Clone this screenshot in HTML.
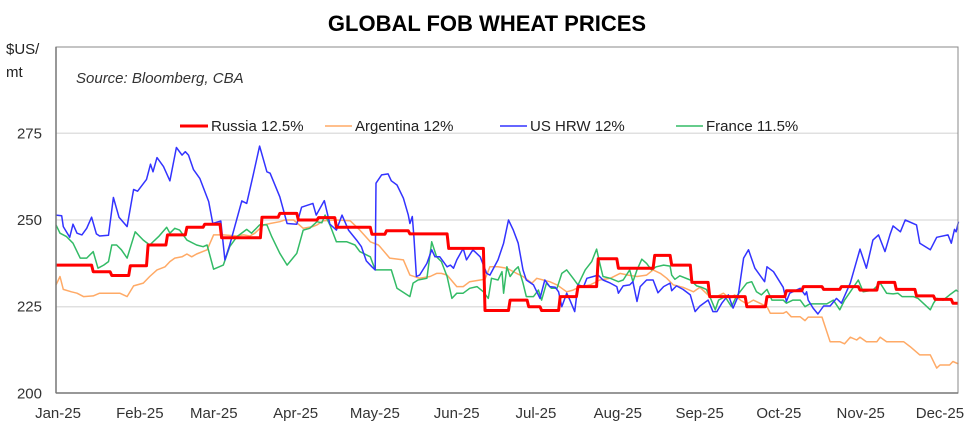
<!DOCTYPE html>
<html><head><meta charset="utf-8"><style>
html,body{margin:0;padding:0;background:#fff;}
body{width:975px;height:439px;overflow:hidden;font-family:"Liberation Sans",Arial,sans-serif;}
</style></head><body>
<svg id="chart" width="975" height="439" xmlns="http://www.w3.org/2000/svg" font-family="Liberation Sans, Arial, sans-serif">
<text x="487" y="31" text-anchor="middle" font-size="22" font-weight="bold" fill="#000">GLOBAL FOB WHEAT PRICES</text>
<text x="6" y="54" font-size="15" fill="#222">$US/</text>
<text x="6" y="77" font-size="15" fill="#222">mt</text>
<g id="grid"></g>
<g id="yt"></g>
<g id="xt"></g>
<g id="series"></g>
<rect x="56" y="47" width="902" height="346" fill="none" stroke="#888" stroke-width="1"/>
<line x1="56" y1="47" x2="56" y2="393" stroke="#777" stroke-width="1.5"/>
<line x1="56" y1="393" x2="958" y2="393" stroke="#777" stroke-width="1.5"/>
<text x="76" y="83" font-size="15" font-style="italic" fill="#333">Source: Bloomberg, CBA</text>
<g>
<g><line x1="180" y1="126" x2="208" y2="126" stroke="#ff0000" stroke-width="3"/><text x="211" y="131" font-size="15" fill="#222">Russia 12.5%</text></g>
<g><line x1="325" y1="126" x2="352" y2="126" stroke="#ffaa66" stroke-width="1.5"/><text x="355" y="131" font-size="15" fill="#222">Argentina 12%</text></g>
<g><line x1="500" y1="126" x2="527" y2="126" stroke="#3333ff" stroke-width="1.5"/><text x="530" y="131" font-size="15" fill="#222">US HRW 12%</text></g>
<g><line x1="676" y1="126" x2="703" y2="126" stroke="#33bb66" stroke-width="1.5"/><text x="706" y="131" font-size="15" fill="#222">France 11.5%</text></g>
</g>
</svg>
<script>
const yTicks=[200,225,250,275];
const monthLabels=["Jan-25","Feb-25","Mar-25","Apr-25","May-25","Jun-25","Jul-25","Aug-25","Sep-25","Oct-25","Nov-25","Dec-25"];
const monthStartDays=[0,31,59,90,120,151,181,212,243,273,304,334];
const russiaM=[0,.46,.69,.92,1.14,1.38,1.62,1.84,2.05,2.55,2.77,3.00,3.25,3.47,3.91,4.09,4.38,4.86,5.31,5.62,5.85,6.01,6.24,6.46,6.71,6.96,7.41,7.62,7.87,8.09,8.55,8.80,9.04,9.25,9.50,9.72,9.95,10.18,10.40,10.65,10.88,11.10];
const russiaV=[237.0,235.1,234.0,236.8,242.8,245.7,247.9,248.8,244.9,250.8,251.9,250.0,250.7,247.9,245.9,246.9,246.0,241.8,223.9,226.9,225.0,223.9,227.9,230.8,238.8,236.1,239.8,237.0,232.0,227.9,225.0,227.9,229.6,230.8,230.0,230.8,229.8,232.0,230.0,228.1,227.1,226.0];
const russiaEndM=11.17;
const argM=[0,.05,.09,.19,.26,.34,.46,.54,.79,.88,.96,1.08,1.16,1.25,1.35,1.41,1.47,1.56,1.62,1.68,1.74,1.87,1.95,2.07,2.24,2.32,2.40,2.46,2.57,2.65,2.77,2.83,2.94,3.06,3.18,3.23,3.31,3.47,3.64,3.76,3.89,3.99,4.01,4.13,4.30,4.38,4.50,4.63,4.71,4.77,4.84,4.96,5.04,5.12,5.25,5.31,5.37,5.47,5.58,5.70,5.78,5.89,5.95,6.03,6.11,6.20,6.26,6.32,6.40,6.49,6.61,6.73,6.86,6.98,7.08,7.19,7.31,7.39,7.48,7.56,7.64,7.76,7.89,7.97,8.09,8.18,8.26,8.34,8.40,8.47,8.55,8.63,8.71,8.80,8.84,9.00,9.04,9.10,9.21,9.27,9.31,9.48,9.58,9.70,9.76,9.83,9.91,9.95,10.03,10.16,10.20,10.28,10.49,10.57,10.69,10.82,10.90,10.94,11.06,11.10,11.17];
const argV=[231.3,233.7,230.0,229.3,228.9,227.9,228.1,228.9,228.9,227.9,231.0,231.8,233.7,235.6,236.5,238.0,239.0,239.4,240.2,239.4,240.2,241.4,245.7,245.7,245.4,245.7,245.4,246.2,248.6,249.0,249.5,250.0,250.0,247.6,248.1,248.6,249.8,250.0,249.8,247.1,243.7,242.8,242.3,239.0,238.5,234.1,233.2,233.7,234.6,234.6,234.1,230.8,230.8,232.2,232.7,232.9,236.5,236.5,236.1,234.6,233.7,231.8,233.2,232.7,232.2,231.3,230.3,229.3,229.8,230.8,231.3,232.7,233.2,234.6,234.1,233.7,234.1,235.6,234.6,233.2,231.3,230.6,229.3,230.6,227.9,227.9,228.9,227.4,228.4,226.9,225.8,226.9,226.0,225.0,223.1,223.1,223.6,222.1,222.1,221.0,222.0,222.0,214.9,214.9,214.3,216.2,215.4,216.2,214.9,214.9,216.2,214.9,214.9,213.5,211.1,211.1,207.3,208.2,208.2,209.2,208.5];
const usM=[0,.07,.09,.17,.21,.26,.32,.38,.44,.50,.54,.65,.71,.78,.88,.96,1.01,1.12,1.17,1.20,1.25,1.33,1.41,1.49,1.56,1.60,1.64,1.70,1.78,1.89,1.94,2.04,2.09,2.15,2.30,2.36,2.44,2.52,2.61,2.65,2.77,2.86,2.98,3.04,3.18,3.22,3.32,3.39,3.47,3.54,3.62,3.72,3.78,3.84,3.91,3.95,3.96,4.03,4.11,4.15,4.22,4.30,4.36,4.38,4.41,4.43,4.46,4.50,4.59,4.65,4.69,4.75,4.84,4.88,4.92,4.96,5.04,5.08,5.16,5.25,5.33,5.37,5.47,5.54,5.60,5.66,5.72,5.78,5.82,5.91,5.99,6.05,6.11,6.18,6.22,6.26,6.32,6.36,6.42,6.46,6.53,6.57,6.65,6.71,6.77,6.86,6.94,6.96,7.02,7.10,7.14,7.19,7.23,7.31,7.39,7.43,7.45,7.52,7.60,7.62,7.68,7.76,7.85,7.91,7.97,8.07,8.13,8.18,8.24,8.32,8.38,8.44,8.51,8.57,8.65,8.77,8.80,8.88,9.00,9.04,9.08,9.21,9.27,9.29,9.31,9.37,9.43,9.50,9.58,9.66,9.72,9.83,9.95,10.03,10.11,10.18,10.26,10.32,10.36,10.45,10.51,10.65,10.69,10.82,10.90,11.04,11.08,11.12,11.14,11.17];
const usV=[251.4,251.2,248.1,245.0,248.8,246.2,245.7,247.6,250.8,246.0,245.4,245.6,256.5,250.8,248.1,258.8,258.3,261.7,266.1,263.9,268.0,265.4,261.3,270.9,268.7,269.7,268.7,264.6,262.0,255.3,249.0,249.7,238.5,242.8,255.5,254.8,263.0,271.3,263.9,263.5,256.7,249.0,248.8,253.7,254.8,251.4,255.6,248.8,247.1,251.4,247.1,244.2,242.3,238.2,236.5,235.6,260.6,263.0,263.3,261.3,260.1,256.3,251.4,249.0,251.0,245.2,233.7,234.1,237.5,241.4,239.4,239.4,236.5,237.0,236.1,238.5,241.8,238.5,241.4,239.4,234.6,234.1,238.5,243.3,250.0,247.1,243.3,235.6,232.7,231.3,227.4,232.7,230.8,230.6,229.3,225.0,228.9,226.9,223.6,231.3,230.8,233.2,233.7,234.1,232.7,231.8,230.8,228.9,231.0,231.3,232.2,226.5,230.8,232.7,232.7,230.3,229.0,230.8,231.8,229.6,231.0,230.0,228.4,223.6,225.2,226.9,223.6,223.6,226.0,228.4,224.6,227.9,239.0,241.4,236.1,232.2,236.5,235.1,230.6,226.5,228.9,230.3,228.4,229.3,226.9,224.6,222.9,225.2,225.2,227.4,226.0,231.8,241.6,236.1,244.2,245.7,240.9,245.7,248.3,246.6,250.0,248.6,243.3,241.4,245.0,245.7,243.3,247.3,246.6,249.5];
const frM=[0,.05,.13,.21,.30,.38,.46,.52,.59,.65,.69,.75,.81,.88,.98,1.08,1.16,1.27,1.37,1.41,1.47,1.53,1.62,1.74,1.82,1.87,1.95,2.07,2.15,2.24,2.36,2.42,2.52,2.61,2.67,2.77,2.86,2.98,3.06,3.14,3.23,3.29,3.33,3.39,3.47,3.60,3.70,3.76,3.89,3.95,4.01,4.15,4.22,4.38,4.42,4.48,4.59,4.65,4.71,4.77,4.84,4.90,4.96,5.04,5.12,5.21,5.29,5.35,5.39,5.47,5.52,5.54,5.58,5.62,5.68,5.72,5.78,5.82,5.91,5.97,6.01,6.07,6.13,6.20,6.26,6.32,6.40,6.46,6.55,6.63,6.69,6.73,6.77,6.86,6.96,7.02,7.10,7.14,7.19,7.25,7.31,7.37,7.43,7.52,7.60,7.62,7.66,7.72,7.85,7.93,7.99,8.05,8.11,8.16,8.20,8.28,8.36,8.42,8.55,8.61,8.67,8.73,8.80,8.86,9.00,9.04,9.12,9.21,9.27,9.33,9.54,9.62,9.70,9.76,9.83,9.93,9.99,10.11,10.20,10.28,10.36,10.42,10.47,10.61,10.67,10.82,10.86,10.90,10.98,11.06,11.14,11.17];
const frV=[248.6,246.2,245.2,243.3,239.0,239.0,240.9,236.1,237.0,238.0,242.8,242.8,241.4,239.0,246.6,244.2,242.8,245.2,247.9,246.2,247.6,247.1,244.2,242.8,242.3,242.8,235.8,237.0,242.3,245.2,247.3,246.2,248.6,248.6,245.2,240.4,237.0,240.4,247.1,247.6,249.5,249.2,251.4,248.6,243.7,243.7,242.8,240.9,239.4,235.6,235.6,235.6,230.3,227.9,231.8,232.7,233.2,243.7,239.4,238.0,233.7,227.4,228.9,228.9,230.3,230.8,229.3,227.4,233.2,232.7,235.1,228.9,236.5,233.7,235.6,236.5,231.8,227.9,227.9,229.8,226.9,231.8,230.3,230.3,234.6,235.6,233.2,231.3,235.6,238.0,241.6,237.5,233.7,233.2,232.2,232.7,235.6,232.2,235.6,238.7,237.5,235.6,236.5,237.0,236.7,234.1,232.9,233.9,232.7,231.0,230.6,230.0,226.9,224.1,226.9,227.9,225.0,227.9,231.8,232.2,229.3,228.4,230.0,226.9,226.9,226.0,226.9,226.9,225.0,225.8,225.8,226.9,224.1,226.9,229.3,232.7,229.3,229.8,231.8,228.9,228.7,228.9,227.9,227.9,227.4,224.1,226.0,227.4,226.9,228.4,229.8,229.3];

const NS="http://www.w3.org/2000/svg";
const X0=56, PXM=80.8, DAYS_PER_M=30.6;
function xs(m){return X0+m*PXM;}
function ys(v){return 220-(v-250)*3.468;}
const grid=document.getElementById('grid'), yt=document.getElementById('yt'), xt=document.getElementById('xt'), ser=document.getElementById('series');
yTicks.forEach(function(t){
  if(t>200){
    const l=document.createElementNS(NS,'line');
    
    
    l.setAttribute('x1',X0);l.setAttribute('x2',958);l.setAttribute('y1',ys(t));l.setAttribute('y2',ys(t));
    l.setAttribute('stroke','#e0e0e0');l.setAttribute('stroke-width','1.5');
    grid.appendChild(l);
  }
  const tx=document.createElementNS(NS,'text');
  
  
  tx.setAttribute('x',42);tx.setAttribute('y',ys(t)+5);tx.setAttribute('text-anchor','end');
  tx.setAttribute('font-size','15');tx.setAttribute('fill','#333');tx.textContent=t;
  yt.appendChild(tx);
});
monthLabels.forEach(function(lab,i){
  const tx=document.createElementNS(NS,'text');
  
  
  tx.setAttribute('x',xs(monthStartDays[i]/DAYS_PER_M)+2);tx.setAttribute('y',418);tx.setAttribute('text-anchor','middle');
  tx.setAttribute('font-size','15');tx.setAttribute('fill','#333');tx.textContent=lab;
  xt.appendChild(tx);
});
function addLine(ms,vs,color,w,name){
  let d='';
  for(let i=0;i<ms.length;i++){d+=(i?'L':'M')+xs(ms[i]).toFixed(1)+','+ys(vs[i]).toFixed(1);}
  const p=document.createElementNS(NS,'path');
  
  
  p.setAttribute('d',d);p.setAttribute('fill','none');p.setAttribute('stroke',color);
  p.setAttribute('stroke-width',w);p.setAttribute('stroke-linejoin','round');
  ser.appendChild(p);
}
addLine(argM,argV,'#ffaa66',1.5,'argentina-line');
addLine(frM,frV,'#33bb66',1.5,'france-line');
addLine(usM,usV,'#3333ff',1.5,'us-hrw-line');
(function(){
  const ms=[],vs=[];
  for(let i=0;i<russiaM.length;i++){
    const end=i<russiaM.length-1?russiaM[i+1]:russiaEndM;
    ms.push(russiaM[i]);vs.push(russiaV[i]);
    ms.push(end-(i<russiaM.length-1?0.02:0));vs.push(russiaV[i]);
  }
  addLine(ms,vs,'#ff0000',3,'russia-line');
})();
</script>
</body></html>
